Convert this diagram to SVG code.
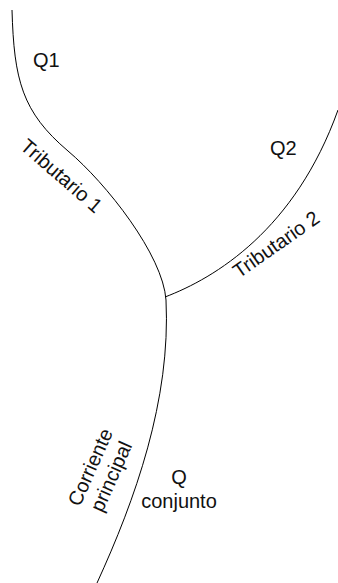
<svg xmlns="http://www.w3.org/2000/svg" width="338" height="583" viewBox="0 0 338 583">
<style>
.river{fill:none;stroke:#000;stroke-width:1}
.lbl{font-family:"Liberation Sans",Arial,sans-serif;font-size:20px;fill:#111}
</style>
<rect width="338" height="583" fill="#fff"/>
<g id="connectors">
<path id="main" class="river" d="M12,10 C14,80 22,112 68,151 C106,183 163,255 166,300 C171,400 135,500 97,583"/>
<path id="trib2" class="river" d="M165,297 C215,278 295,230 338,110"/>
</g>
<g id="q1"><text class="lbl" x="33" y="67">Q1</text></g>
<g id="q2"><text class="lbl" x="270" y="155">Q2</text></g>
<g id="t1"><text class="lbl" text-anchor="middle" transform="translate(57,181) rotate(41)">Tributario 1</text></g>
<g id="t2"><text class="lbl" text-anchor="middle" transform="translate(280,250) rotate(-35)">Tributario 2</text></g>
<g id="cp"><g transform="translate(107,474.5) rotate(-66)"><text class="lbl" text-anchor="middle" x="0" y="-11.5">Corriente</text><text class="lbl" text-anchor="middle" x="0" y="11.5">principal</text></g></g>
<g id="q"><text class="lbl" text-anchor="middle" x="179" y="484">Q</text><text class="lbl" text-anchor="middle" x="179" y="508">conjunto</text></g>
</svg>
